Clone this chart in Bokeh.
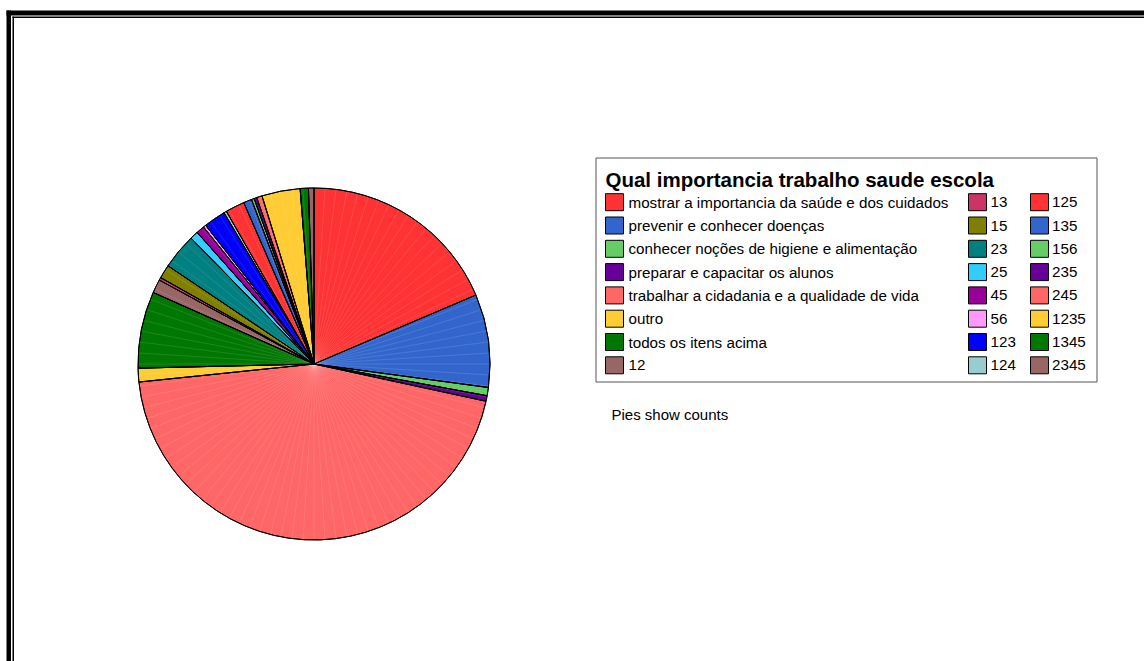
import math
from bokeh.plotting import figure
from bokeh.models import Range1d
from bokeh.core.properties import value
from bokeh.embed import file_html
from bokeh.resources import INLINE

# ---- data ----
title = "Qual importancia trabalho saude escola"
note = "Pies show  counts"
categories = [
    "mostrar a importancia da saúde e dos cuidados",
    "prevenir e conhecer doenças",
    "conhecer noções de higiene e alimentação",
    "preparar e capacitar os alunos",
    "trabalhar a cidadania e a qualidade de vida",
    "outro",
    "todos os itens acima",
    "12", "13", "15", "23", "25", "45", "56", "123",
    "124", "125", "135", "156", "235", "245", "1235", "1345", "2345",
]
counts = [74, 34, 3, 2, 179, 5, 28, 5, 1, 5, 13, 3, 3, 1, 8,
          1, 7, 3, 1, 1, 2, 14, 3, 2]
colors = [
    "#FF3333", "#3366CC", "#66CC66", "#660099", "#FF6666", "#FFCC33", "#007700",
    "#996666", "#CC3366", "#808000", "#008080", "#33CCFF", "#990099", "#FF99FF",
    "#0000FF", "#99CCCC", "#FF3333", "#3366CC", "#66CC66", "#660099", "#FF6666",
    "#FFCC33", "#007700", "#996666",
]

W, H = 1144, 661
FONT = "Liberation Sans"


def Y(y):
    return H - y


p = figure(width=W, height=H, output_backend="svg", toolbar_location=None,
           x_range=Range1d(0, W), y_range=Range1d(0, H),
           min_border=0, outline_line_color=None)
p.axis.visible = False
p.grid.visible = False
p.background_fill_color = "white"

# ---- frame (double border) ----
p.quad(left=[6], right=[W + 10], top=[Y(10)], bottom=[Y(15)], fill_color="black", line_color=None)
p.quad(left=[6], right=[10.5], top=[Y(10)], bottom=[Y(H + 10)], fill_color="black", line_color=None)
p.quad(left=[12], right=[W + 10], top=[Y(16)], bottom=[Y(17.5)], fill_color="black", line_color=None)
p.quad(left=[12], right=[13.5], top=[Y(16)], bottom=[Y(H + 10)], fill_color="black", line_color=None)

# ---- pie ----
cx, cy, r = 313.5, 363.5, 176
total = sum(counts)
starts, ends = [], []
cum = 0
for c in counts:
    starts.append(math.pi / 2 - 2 * math.pi * cum / total)
    cum += c
    ends.append(math.pi / 2 - 2 * math.pi * cum / total)

p.wedge(x=[cx] * len(counts), y=[Y(cy)] * len(counts), radius=r,
        start_angle=starts, end_angle=ends, direction="clock",
        fill_color=colors, line_color="black", line_width=1)

# faint rendering facets of the original
nseg = 100
x1 = [cx + r * 0.995 * math.cos(2 * math.pi * k / nseg) for k in range(nseg)]
y1 = [Y(cy) + r * 0.995 * math.sin(2 * math.pi * k / nseg) for k in range(nseg)]
p.segment(x0=[cx] * nseg, y0=[Y(cy)] * nseg, x1=x1, y1=y1,
          line_color="white", line_alpha=0.2, line_width=0.6)

# redraw slice outlines on top
p.wedge(x=[cx] * len(counts), y=[Y(cy)] * len(counts), radius=r,
        start_angle=starts, end_angle=ends, direction="clock",
        fill_color=None, line_color="black", line_width=0.9)

# ---- legend box ----
p.quad(left=[595.5], right=[1096.5], top=[Y(157.5)], bottom=[Y(381.5)],
       fill_color="white", line_color="#555555", line_width=1)
p.text(x=[605], y=[Y(179)], text=[title], text_font=value(FONT),
       text_font_style="bold", text_font_size="20.5px", text_baseline="middle",
       text_color="black")

col_sw = [605, 968, 1030]
col_tx = [628, 990, 1051.5]
row0, drow = 201.7, 23.3
sw_x, sw_y, tx_x, tx_y, tx = [], [], [], [], []
for i, name in enumerate(categories):
    col, row = divmod(i, 8)
    yc = row0 + row * drow
    sw_x.append(col_sw[col] + 9)
    sw_y.append(Y(yc))
    tx_x.append(col_tx[col])
    tx_y.append(Y(yc))
    tx.append(name)

p.rect(x=sw_x, y=sw_y, width=18, height=17, fill_color=colors,
       line_color="black", line_width=1)
p.text(x=tx_x, y=tx_y, text=tx, text_font=value(FONT), text_font_size="15.2px",
       text_baseline="middle", text_color="black")

p.text(x=[611], y=[Y(414)], text=[note], text_font=value(FONT),
       text_font_size="15px", text_baseline="middle", text_color="black")

open("out.html", "w").write(file_html(p, INLINE))
